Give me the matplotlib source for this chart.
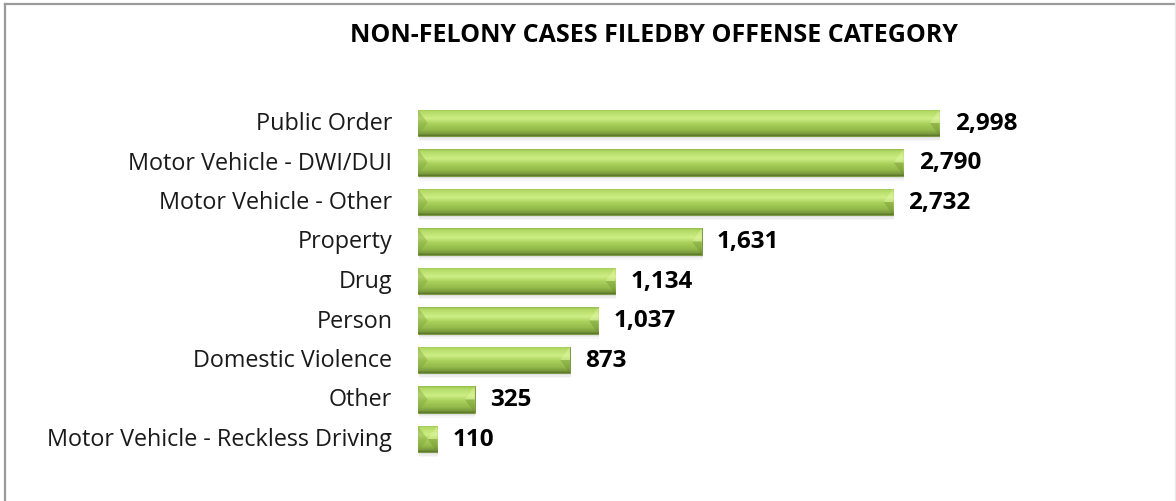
import numpy as np
import matplotlib.pyplot as plt
from matplotlib.patches import Rectangle, Polygon
from matplotlib.colors import to_rgb

categories = [
    "Public Order",
    "Motor Vehicle - DWI/DUI",
    "Motor Vehicle - Other",
    "Property",
    "Drug",
    "Person",
    "Domestic Violence",
    "Other",
    "Motor Vehicle - Reckless Driving",
]
values = [2998, 2790, 2732, 1631, 1134, 1037, 873, 325, 110]
value_labels = ["2,998", "2,790", "2,732", "1,631", "1,134", "1,037", "873", "325", "110"]

title = "NON-FELONY CASES FILEDBY OFFENSE CATEGORY"

plt.rcParams["font.family"] = ["Open Sans", "DejaVu Sans"]

W, H = 1176, 502
fig = plt.figure(figsize=(W / 100, H / 100), dpi=100)

# frame: grey top/left lines, faint right edge
fig.add_artist(plt.Line2D([5 / W, 1], [1 - 5 / H, 1 - 5 / H], color="#9a9a9a", lw=1.6))
fig.add_artist(plt.Line2D([5 / W, 5 / W], [0, 1 - 5 / H], color="#9a9a9a", lw=1.6))
fig.add_artist(plt.Line2D([1 - 1.5 / W, 1 - 1.5 / W], [0, 1], color="#e8e8e8", lw=1))

# plot area: zero at x=418 px, ~0.174 px per case
ax = fig.add_axes([418 / W, 38.3 / H, 574 / W, 363.4 / H])
ax.set_xlim(0, 3300)
ax.set_ylim(8.6, -0.6)
ax.axis("off")

# vertical gradient for the bars
stops = [
    (0.00, "#94bd4c"),
    (0.08, "#b3d966"),
    (0.35, "#cdee84"),
    (0.55, "#a8d05a"),
    (0.78, "#93ba4b"),
    (0.92, "#7a9a3c"),
    (1.00, "#5a752a"),
]
n = 64
ts = np.linspace(0, 1, n)
pos = [s[0] for s in stops]
cols = np.array([to_rgb(s[1]) for s in stops])
grad = np.stack([np.interp(ts, pos, cols[:, k]) for k in range(3)], axis=1)
img = np.repeat(grad[:, None, :], 2, axis=1)

bh = 0.66
bev = 55
for i, v in enumerate(values):
    y0 = i - bh / 2
    y1 = i + bh / 2
    # soft shadow under the bar
    for k, a in enumerate([0.05, 0.04, 0.03]):
        ax.add_patch(Rectangle((5, y0 + 0.06 + 0.035 * k), v, bh, facecolor="#000000",
                               alpha=a, edgecolor="none", zorder=1))
    bar = ax.barh(i, v, height=bh, color="#a6cf5c", edgecolor="#6f8f36",
                  linewidth=0.6, zorder=2)[0]
    im = ax.imshow(img, extent=(0, v, y1, y0), aspect="auto",
                   zorder=3, interpolation="bilinear")
    im.set_clip_path(bar)
    b = min(bev, v / 2)
    # bevels at both ends
    ax.add_patch(Polygon([(0, y0), (b, i), (0, y1)], closed=True,
                         facecolor="#7fa23e", alpha=0.4, lw=0, zorder=4))
    ax.add_patch(Polygon([(v, y0), (v - b, i), (v, i)], closed=True,
                         facecolor="#e6f9b0", alpha=0.4, lw=0, zorder=4))
    ax.add_patch(Polygon([(v, i), (v - b, i), (v, y1)], closed=True,
                         facecolor="#6a8a30", alpha=0.35, lw=0, zorder=4))
    ax.annotate(value_labels[i], (v, i), xytext=(11, 0), textcoords="offset points",
                va="center", ha="left", fontsize=17.5, fontweight="bold",
                color="black", zorder=5)
    ax.annotate(categories[i], (0, i), xytext=(-18.5, 0), textcoords="offset points",
                va="center", ha="right", fontsize=16.8, color="#1a1a1a", zorder=5)

fig.text(350 / W, 1 - 42 / H, title, ha="left", va="baseline",
         fontsize=18, fontweight="bold", color="black")

fig.savefig("out.png", dpi=100, facecolor="white")
